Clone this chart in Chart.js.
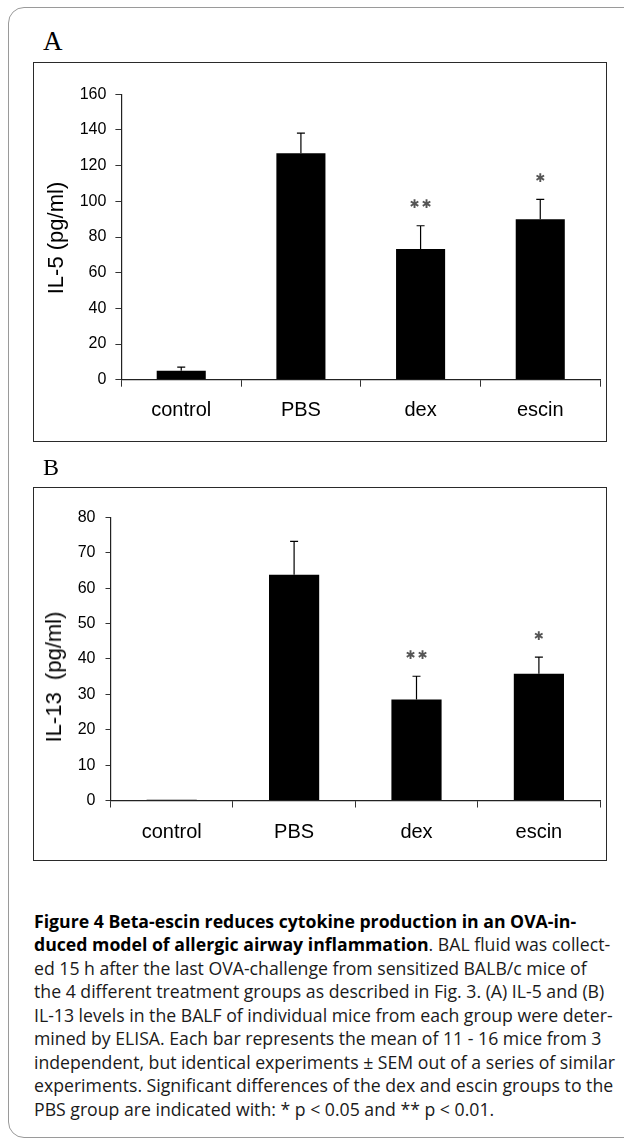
<!DOCTYPE html>
<html>
<head>
<meta charset="utf-8">
<script src="https://cdn.jsdelivr.net/npm/chart.js@4.4.0/dist/chart.umd.min.js"></script>
<style>
  body { margin:0; width:624px; height:1140px; position:relative; overflow:hidden; background:#fff;
         font-family:"Liberation Sans", Arial, sans-serif; }
  .frame { position:absolute; left:8px; top:7px; width:660px; height:1131px; border:1.5px solid #9a9a9a;
           border-radius:16px; box-sizing:border-box; }
  .letter { position:absolute; font-family:"Liberation Serif","Times New Roman",serif; color:#000; line-height:1; }
  .box { position:absolute; left:33px; width:574px; border:1.8px solid #2a2a2a; box-sizing:border-box; }
  .wrap { position:absolute; left:35px; width:570px; }
  .ytitle { position:absolute; transform:translate(-50%,-50%) rotate(-90deg); white-space:nowrap;
            font-size:22px; color:#000; line-height:1; }
  .caption { position:absolute; left:34px; top:909px; font-family:"Open Sans","Noto Sans",sans-serif;
             font-size:18.5px; line-height:23.45px; color:#1a1a1a; white-space:nowrap; transform-origin:0 0; }
  .caption b { color:#000; font-weight:700; }
</style>
</head>
<body>
<div class="frame"></div>

<div class="letter" style="left:43px;top:28px;font-size:27px;">A</div>
<div class="box" style="top:62px;height:380px;"></div>
<div class="wrap" style="top:64px;height:376px;"><canvas id="chartA"></canvas></div>
<div class="ytitle" style="left:55.7px;top:237.5px;">IL-5 (pg/ml)</div>

<div class="letter" style="left:43px;top:455px;font-size:24px;">B</div>
<div class="box" style="top:487px;height:374px;"></div>
<div class="wrap" style="top:489px;height:370px;"><canvas id="chartB"></canvas></div>
<div class="ytitle" style="left:53.7px;top:676.7px;">IL-13&nbsp; (pg/ml)</div>

<div class="caption" id="caption">
<div><b>Figure 4 Beta-escin reduces cytokine production in an OVA-in-</b></div>
<div><b>duced model of allergic airway inflammation</b>. BAL fluid was collect-</div>
<div>ed 15 h after the last OVA-challenge from sensitized BALB/c mice of</div>
<div>the 4 different treatment groups as described in Fig. 3. (A) IL-5 and (B)</div>
<div>IL-13 levels in the BALF of individual mice from each group were deter-</div>
<div>mined by ELISA. Each bar represents the mean of 11 - 16 mice from 3</div>
<div>independent, but identical experiments ± SEM out of a series of similar</div>
<div>experiments. Significant differences of the dex and escin groups to the</div>
<div>PBS group are indicated with: * p &lt; 0.05 and ** p &lt; 0.01.</div>
</div>

<script>
const groups = ['control', 'PBS', 'dex', 'escin'];

const il5Mean = [5.0, 126.9, 73.3, 89.9];
const il5Sem = [2.0, 11.3, 13.0, 11.2];
const il5Ticks = [0, 20, 40, 60, 80, 100, 120, 140, 160];

const il13Mean = [0.2, 63.8, 28.5, 35.8];
const il13Sem = [0, 9.4, 6.6, 4.7];
const il13Ticks = [0, 10, 20, 30, 40, 50, 60, 70, 80];

const signif = ['', '', '**', '*'];

// squeeze caption lines to the column width
const cap = document.getElementById('caption');
let widest = 0;
cap.querySelectorAll('div').forEach(d => {
  const r = document.createRange(); r.selectNodeContents(d);
  widest = Math.max(widest, r.getBoundingClientRect().width);
});
cap.style.transform = 'scaleX(' + (581 / widest) + ')';

// upward error bars + significance stars
const errorBars = {
  id: 'errorBars',
  afterDatasetsDraw(chart, args, opts) {
    const ctx = chart.ctx, x = chart.scales.x, y = chart.scales.y;
    ctx.save();
    ctx.strokeStyle = '#000';
    ctx.lineWidth = 1.2;
    opts.mean.forEach((m, i) => {
      const px = x.getPixelForValue(i);
      const top = y.getPixelForValue(m + opts.sem[i]);
      if (opts.sem[i] > 0) {
        ctx.beginPath();
        ctx.moveTo(px, y.getPixelForValue(m));
        ctx.lineTo(px, top);
        ctx.moveTo(px - 4, top);
        ctx.lineTo(px + 4, top);
        ctx.stroke();
      }
      const s = opts.stars[i];
      if (s) {
        ctx.fillStyle = '#555';
        ctx.font = '12px "DejaVu Sans", sans-serif';
        ctx.textAlign = 'center';
        ctx.textBaseline = 'alphabetic';
        const mt = ctx.measureText('\u2731');
        const cy = top - 22;
        const base = cy + (mt.actualBoundingBoxAscent - mt.actualBoundingBoxDescent) / 2;
        for (let k = 0; k < s.length; k++) {
          ctx.fillText('\u2731', px + (k - (s.length - 1) / 2) * 12, base);
        }
      }
    });
    ctx.restore();
  }
};

function makeChart(id, mean, sem, ticks, area, yTick) {
  const max = ticks[ticks.length - 1];
  new Chart(document.getElementById(id), {
    type: 'bar',
    data: {
      labels: groups,
      datasets: [{
        data: mean,
        backgroundColor: '#000',
        borderWidth: 0,
        barPercentage: 0.41,
        categoryPercentage: 1
      }]
    },
    options: {
      responsive: true,
      maintainAspectRatio: false,
      animation: false,
      events: [],
      layout: { padding: { top: area.top, right: area.right, left: 0, bottom: 0 } },
      plugins: {
        legend: { display: false },
        tooltip: { enabled: false },
        errorBars: { mean: mean, sem: sem, stars: signif }
      },
      scales: {
        x: {
          afterFit: s => { s.height = area.xh; },
          grid: { drawOnChartArea: false, offset: true, tickLength: 7, color: '#333', lineWidth: 1 },
          border: { color: '#222', width: 1.2 },
          ticks: { color: '#000', font: { size: 20, family: '"Liberation Sans", Arial' }, padding: area.lp }
        },
        y: {
          min: 0,
          max: max,
          afterFit: s => { s.width = area.left; },
          afterBuildTicks: s => { s.ticks = ticks.map(v => ({ value: v })); },
          grid: { drawOnChartArea: false, tickLength: yTick.len, color: '#333', lineWidth: 1 },
          border: { color: '#222', width: 1.2 },
          ticks: { color: '#000', font: { size: 16, family: '"Liberation Sans", Arial' }, padding: yTick.pad }
        }
      }
    },
    plugins: [errorBars]
  });
}

makeChart('chartA', il5Mean, il5Sem, il5Ticks,
  { top: 30.3, right: 4.9, left: 86.4, xh: 60.3, lp: 12 }, { len: 6, pad: 9 });
makeChart('chartB', il13Mean, il13Sem, il13Ticks,
  { top: 28.3, right: 4.9, left: 75.5, xh: 58.5, lp: 13 }, { len: 5, pad: 10 });
</script>
</body>
</html>
